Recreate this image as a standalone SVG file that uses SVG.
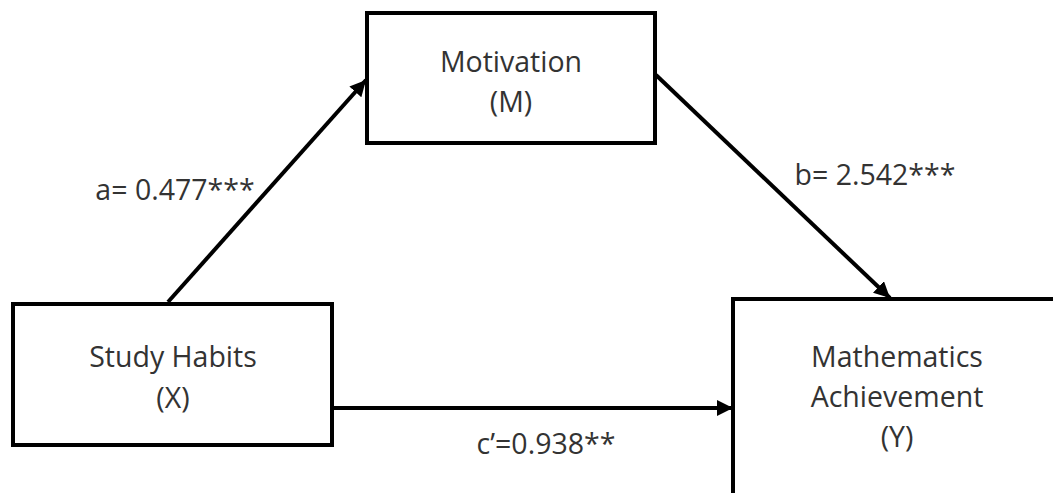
<svg xmlns="http://www.w3.org/2000/svg" width="1053" height="493" viewBox="0 0 1053 493">
<defs>
<style>
.box{fill:#fff;stroke:#000;stroke-width:4}
.lbl{font-family:"Open Sans","Liberation Sans",sans-serif;font-size:28.5px;fill:#333;text-anchor:middle}
.edge{stroke:#000;stroke-width:4;fill:none;marker-end:url(#arr)}
</style>
<marker id="arr" markerUnits="userSpaceOnUse" markerWidth="18" markerHeight="16" refX="16" refY="8" orient="auto">
<path d="M0,0 L16,8 L0,16 z" fill="#000"/>
</marker>
</defs>
<rect width="1053" height="493" fill="#fff"/>
<g id="node-motivation">
<rect class="box" x="367" y="13" width="288" height="130"/>
<text class="lbl" x="511" y="72">Motivation</text>
<text class="lbl" x="511" y="112">(M)</text>
</g>
<g id="node-study">
<rect class="box" x="13" y="304" width="319" height="141"/>
<text class="lbl" x="173" y="367">Study Habits</text>
<text class="lbl" x="173" y="408">(X)</text>
</g>
<g id="node-math">
<rect class="box" x="733" y="299" width="340" height="220"/>
<text class="lbl" x="897" y="367">Mathematics</text>
<text class="lbl" x="897" y="407">Achievement</text>
<text class="lbl" x="897" y="447">(Y)</text>
</g>
<g id="connectors">
<line class="edge" x1="168" y1="302" x2="366" y2="80"/>
<line class="edge" x1="656" y1="75" x2="890" y2="298"/>
<line class="edge" x1="332" y1="408" x2="733" y2="408"/>
</g>
<g id="labels">
<text class="lbl" x="175" y="200">a= 0.477***</text>
<text class="lbl" x="875" y="185">b= 2.542***</text>
<text class="lbl" x="546" y="454">c’=0.938**</text>
</g>
</svg>
